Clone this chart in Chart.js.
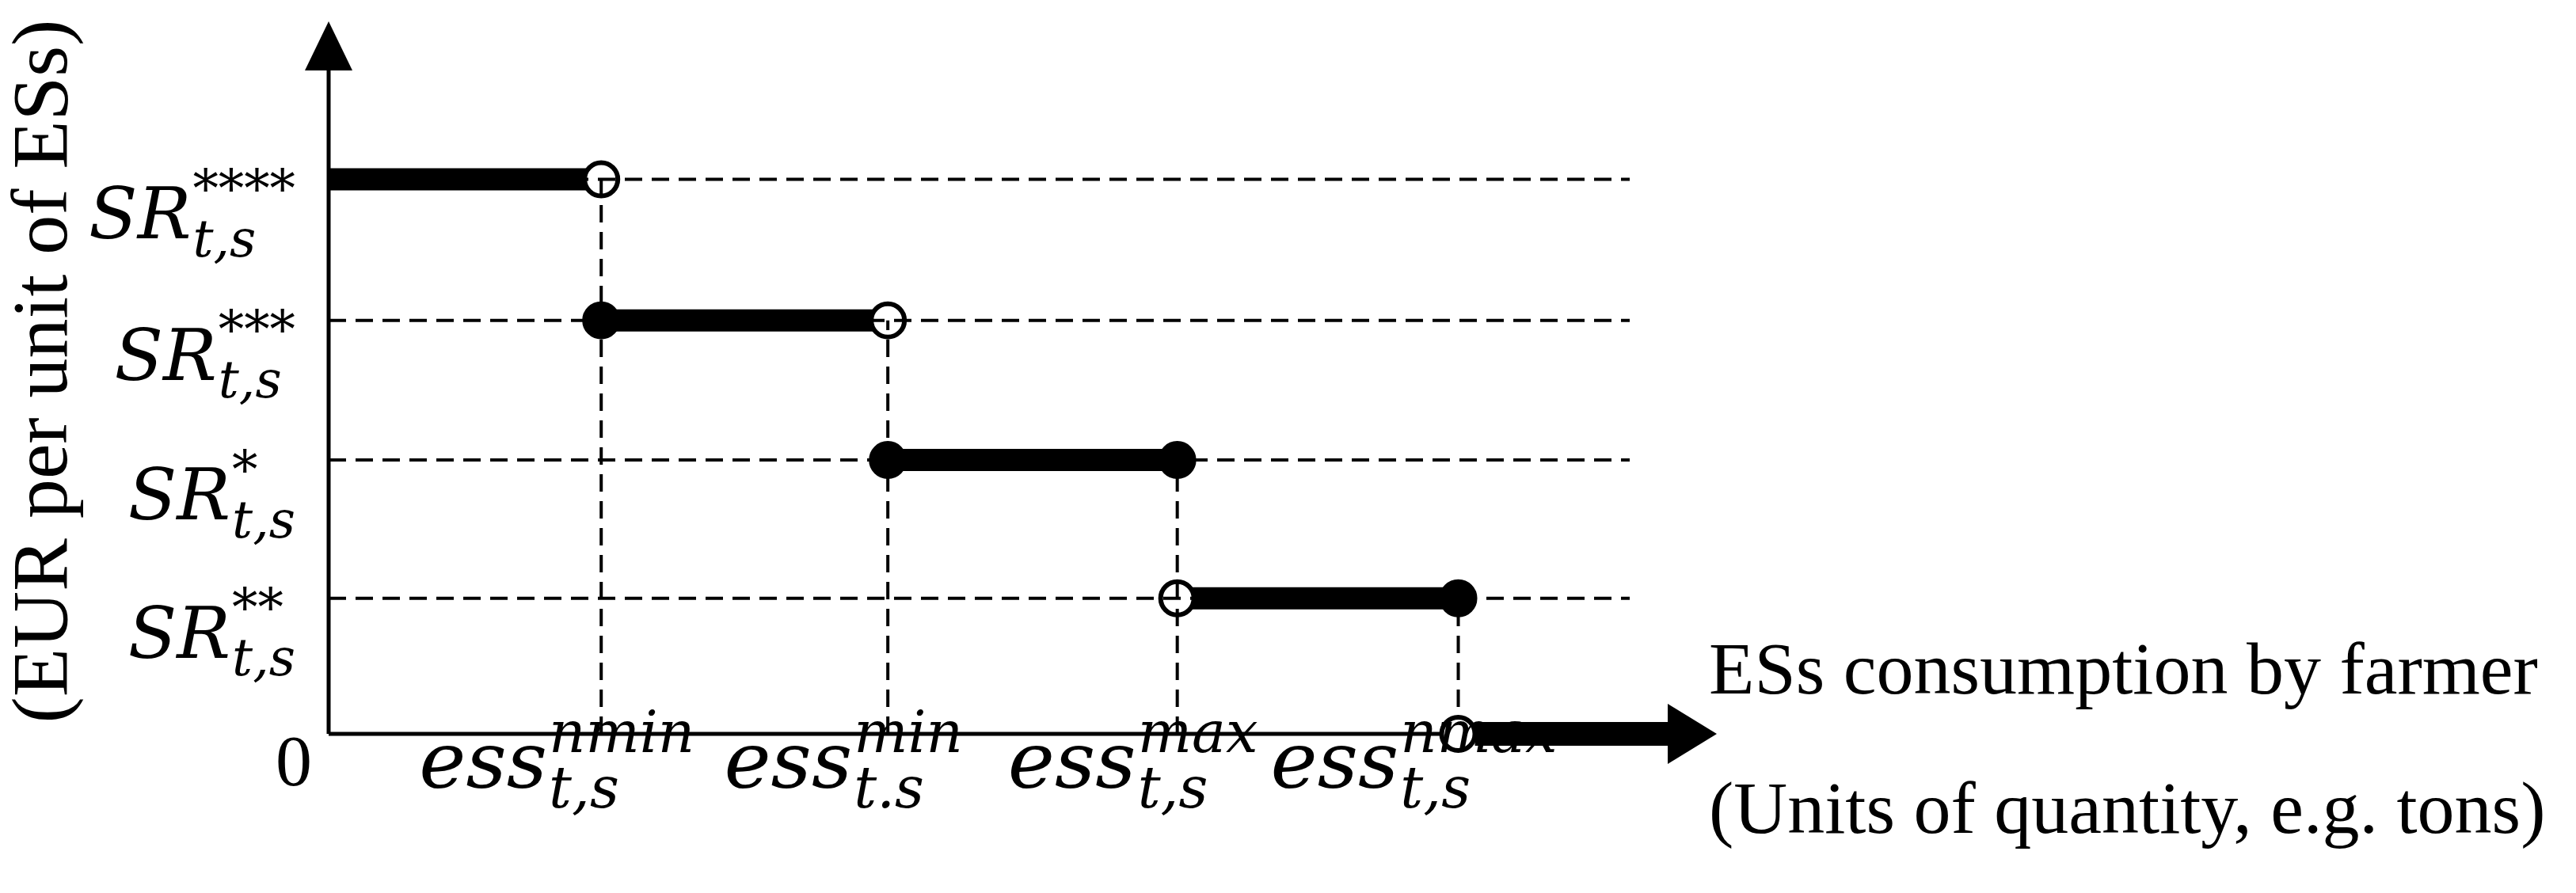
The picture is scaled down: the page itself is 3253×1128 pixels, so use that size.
<!DOCTYPE html>
<html><head><meta charset="utf-8">
<script src="https://cdn.jsdelivr.net/npm/chart.js@4"></script>
<style>html,body{margin:0;padding:0;background:#fff}#w{width:3253px;height:1128px}</style>
</head><body><div id="w"><canvas id="c"></canvas></div>
<script>
// ---- data ----
const breakpoints = [0.97, 1.99, 3.02, 4.02];
const stepStart = [0, 0.97, 1.99, 3.02];
const stepEnd = [0.97, 1.99, 3.02, 4.02];
const levels = [3.97, 2.96, 1.96, 0.97];
const startClosed = [null, true, true, false];
const endClosed = [false, false, true, true];
const levelLabelsSup = ['****', '***', '*', '**'];
const xLabelsSup = ['nmin', 'min', 'max', 'nmax'];
const xLabelsSub = ['t,s', 't.s', 't,s', 't,s'];
const guideEnd = 4.63;
const xMax = 4.94, yMax = 5.1;
const xTitle1 = 'ESs consumption by farmer';
const xTitle2 = '(Units of quantity, e.g. tons)';
const yTitle = '(EUR per unit of ESs)';

const datasets = [];
const dash = {borderColor:'#000', borderWidth:4, borderDash:[22,12], pointRadius:0, fill:false, clip:false};
levels.forEach(l => datasets.push({...dash, data:[{x:0,y:l},{x:guideEnd,y:l}]}));
breakpoints.forEach((b,i) => datasets.push({...dash, data:[{x:b,y:0},{x:b,y:levels[i]}]}));
levels.forEach((l,i) => {
  const pts = [{x:stepStart[i],y:l},{x:stepEnd[i],y:l}];
  const rad = [startClosed[i]===null?0:21, 21];
  const bg = [startClosed[i]?'#000':'#fff', endClosed[i]?'#000':'#fff'];
  datasets.push({data:pts, borderColor:'#000', borderWidth:28, borderCapStyle:'butt', clip:false,
    pointRadius:rad, pointBackgroundColor:bg, pointBorderColor:'#000', pointBorderWidth:6, fill:false});
});

function mathWidth(ctx, base, sup, sub, fs){
  ctx.font = `italic ${fs}px "DejaVu Serif"`;
  const w = ctx.measureText(base).width;
  ctx.font = `italic ${fs*0.72}px "DejaVu Serif"`;
  return w + 2 + Math.max(ctx.measureText(sup).width, ctx.measureText(sub).width);
}
function drawMath(ctx, base, sup, sub, x, y, fs){
  ctx.textAlign='left'; ctx.textBaseline='alphabetic';
  ctx.font = `italic ${fs}px "DejaVu Serif"`;
  ctx.fillText(base, x, y);
  const w = ctx.measureText(base).width;
  ctx.font = `italic ${fs*0.72}px "DejaVu Serif"`;
  ctx.fillText(sup, x+w+2, y - fs*0.45);
  ctx.fillText(sub, x+w+2, y + fs*0.25);
}

const deco = {
  id:'deco',
  afterDatasetsDraw(chart){
    const {ctx, scales:{x,y}} = chart;
    ctx.save(); ctx.fillStyle='#000'; ctx.strokeStyle='#000';
    const x0=x.getPixelForValue(0), y0=y.getPixelForValue(0);
    ctx.lineWidth=5; ctx.beginPath(); ctx.moveTo(x0,y0); ctx.lineTo(x0,y.getPixelForValue(yMax)+50); ctx.stroke();
    const ty=y.getPixelForValue(yMax);
    ctx.beginPath(); ctx.moveTo(x0,ty); ctx.lineTo(x0-30,ty+62); ctx.lineTo(x0+30,ty+62); ctx.closePath(); ctx.fill();
    const xn=x.getPixelForValue(breakpoints[3]);
    ctx.beginPath(); ctx.moveTo(x0,y0); ctx.lineTo(xn-21,y0); ctx.stroke();
    const xb=xn+21, xt=x.getPixelForValue(xMax);
    ctx.fillRect(xb, y0-15, xt-62-xb, 30);
    ctx.beginPath(); ctx.moveTo(xt,y0); ctx.lineTo(xt-62,y0-38); ctx.lineTo(xt-62,y0+38); ctx.closePath(); ctx.fill();
    // open circle on x axis
    ctx.beginPath(); ctx.arc(xn,y0,21,0,Math.PI*2); ctx.fillStyle='#fff'; ctx.fill();
    ctx.lineWidth=6; ctx.stroke(); ctx.fillStyle='#000';
    levels.forEach((l,i)=>{
      const fs=90, w=mathWidth(ctx,'SR',levelLabelsSup[i],'t,s',fs);
      drawMath(ctx,'SR',levelLabelsSup[i],'t,s', 373-w, y.getPixelForValue(l)+75, fs);
    });
    ctx.font='92px "Liberation Serif"'; ctx.textAlign='center'; ctx.textBaseline='alphabetic';
    ctx.fillText('0', 371, 992);
    breakpoints.forEach((b,i)=>{
      const fs=100, w=mathWidth(ctx,'ess',xLabelsSup[i],xLabelsSub[i],fs);
      drawMath(ctx,'ess',xLabelsSup[i],xLabelsSub[i], x.getPixelForValue(b)-w/2-56, 995, fs);
    });
    ctx.font='94px "Liberation Serif"'; ctx.textAlign='left'; ctx.textBaseline='middle';
    ctx.fillText(xTitle1, 2158, 851);
    ctx.fillText(xTitle2, 2158, 1027);
    ctx.translate(58, 469); ctx.rotate(-Math.PI/2); ctx.textAlign='center';
    ctx.font='100px "Liberation Serif"';
    ctx.fillText(yTitle, 0, 0);
    ctx.restore();
  }
};

new Chart(document.getElementById('c'), {
  type:'line',
  data:{datasets},
  options:{
    responsive:true, maintainAspectRatio:false, animation:false,
    layout:{padding:{left:415, right:3253-2168, top:20, bottom:1128-927}},
    plugins:{legend:{display:false}, tooltip:{enabled:false}},
    scales:{
      x:{type:'linear', min:0, max:xMax, display:false},
      y:{type:'linear', min:0, max:yMax, display:false}
    }
  },
  plugins:[deco]
});
</script></body></html>
